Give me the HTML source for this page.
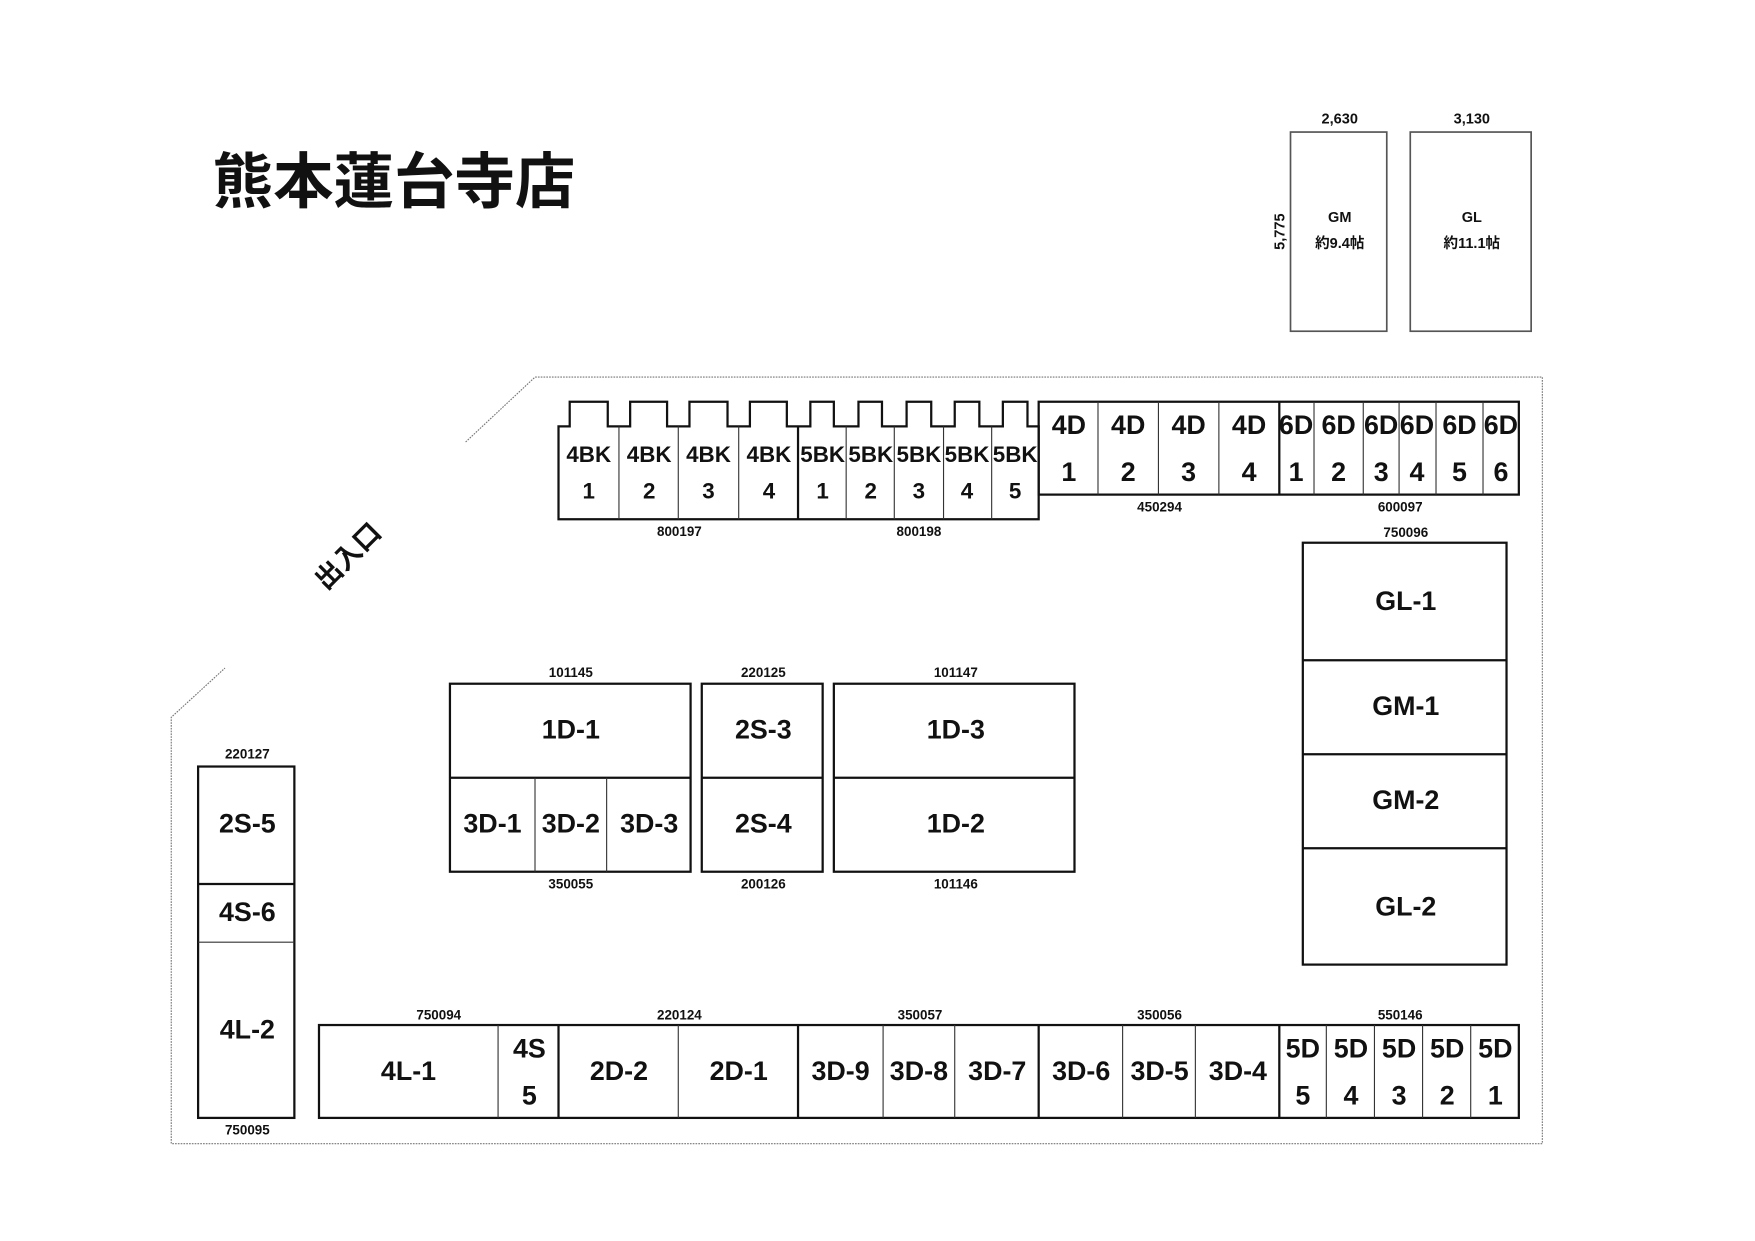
<!DOCTYPE html>
<html><head><meta charset="utf-8"><style>
html,body{margin:0;padding:0;background:#fff;}
svg{display:block;}
text{font-family:"Liberation Sans","Noto Sans CJK JP",sans-serif;font-weight:bold;fill:#111;text-anchor:middle;dominant-baseline:central;}
.s{font-size:12px;}
.m{font-size:24px;}
.b{font-size:20px;}
.thin{stroke:#333;stroke-width:1;fill:none;}
.thick{stroke:#111;stroke-width:2;fill:none;}
.dot{stroke:#777;stroke-width:1;fill:none;stroke-dasharray:1.5 1;}
</style></head><body>
<svg width="1755" height="1241" viewBox="0 0 1568 1109" preserveAspectRatio="none" xmlns="http://www.w3.org/2000/svg">
<rect width="1568" height="1109" fill="#fff"/>
<text x="352" y="158" style="font-size:54px;font-family:'Noto Sans CJK JP',sans-serif;">熊本蓮台寺店</text>

<!-- GM / GL -->
<rect x="1153" y="118" width="86" height="178" class="thin" style="stroke:#555;stroke-width:1.5"/>
<rect x="1260" y="118" width="108" height="178" class="thin" style="stroke:#555;stroke-width:1.5"/>
<text x="1197" y="107" class="s" style="font-size:13px">2,630</text>
<text x="1315" y="107" class="s" style="font-size:13px">3,130</text>
<text x="1197" y="195" class="s" style="font-size:13px">GM</text>
<text x="1197" y="218" class="s" style="font-size:13px">約9.4帖</text>
<text x="1315" y="195" class="s" style="font-size:13px">GL</text>
<text x="1315" y="218" class="s" style="font-size:13px">約11.1帖</text>
<text x="1144" y="207" class="s" style="font-size:13px" transform="rotate(-90 1144 207)">5,775</text>

<!-- boundary -->
<path class="dot" d="M416,395 L478,337 L1378,337 L1378,1022 L153,1022 L153,641 L201,597"/>

<text x="311" y="497" style="font-size:24px" transform="rotate(-45 311 497)">出入口</text>

<!-- BK row -->
<path class="thick" d="M499,464 L499,381 L509,381 L509,359 L543,359 L543,381 L563,381 L563,359 L596,359 L596,381 L616,381 L616,359 L650,359 L650,381 L670,381 L670,359 L703,359 L703,381 L724,381 L724,359 L745,359 L745,381 L767,381 L767,359 L788,359 L788,381 L810,381 L810,359 L832,359 L832,381 L853,381 L853,359 L875,359 L875,381 L896,381 L896,359 L918,359 L918,381 L928,381 L928,464 Z"/>
<path class="thin" d="M553,381V464M606,381V464M660,381V464M756,381V464M799,381V464M843,381V464M886,381V464"/>
<path class="thick" d="M713,381V464"/>
<g class="b">
<text x="526" y="406">4BK</text><text x="526" y="439">1</text>
<text x="580" y="406">4BK</text><text x="580" y="439">2</text>
<text x="633" y="406">4BK</text><text x="633" y="439">3</text>
<text x="687" y="406">4BK</text><text x="687" y="439">4</text>
<text x="735" y="406">5BK</text><text x="735" y="439">1</text>
<text x="778" y="406">5BK</text><text x="778" y="439">2</text>
<text x="821" y="406">5BK</text><text x="821" y="439">3</text>
<text x="864" y="406">5BK</text><text x="864" y="439">4</text>
<text x="907" y="406">5BK</text><text x="907" y="439">5</text>
</g>
<text x="607" y="475" class="s">800197</text>
<text x="821" y="475" class="s">800198</text>

<!-- 4D/6D row -->
<rect x="928" y="359" width="429" height="83" class="thick"/>
<path class="thin" d="M981,359V442M1035,359V442M1089,359V442M1174,359V442M1218,359V442M1250,359V442M1283,359V442M1325,359V442"/>
<path class="thick" d="M1143,359V442"/>
<g class="m">
<text x="955" y="380">4D</text><text x="955" y="422">1</text>
<text x="1008" y="380">4D</text><text x="1008" y="422">2</text>
<text x="1062" y="380">4D</text><text x="1062" y="422">3</text>
<text x="1116" y="380">4D</text><text x="1116" y="422">4</text>
<text x="1158" y="380">6D</text><text x="1158" y="422">1</text>
<text x="1196" y="380">6D</text><text x="1196" y="422">2</text>
<text x="1234" y="380">6D</text><text x="1234" y="422">3</text>
<text x="1266" y="380">6D</text><text x="1266" y="422">4</text>
<text x="1304" y="380">6D</text><text x="1304" y="422">5</text>
<text x="1341" y="380">6D</text><text x="1341" y="422">6</text>
</g>
<text x="1036" y="453" class="s">450294</text>
<text x="1251" y="453" class="s">600097</text>

<!-- GL column -->
<text x="1256" y="476" class="s">750096</text>
<rect x="1164" y="485" width="182" height="377" class="thick"/>
<path class="thick" d="M1164,590H1346M1164,674H1346M1164,758H1346"/>
<g class="m">
<text x="1256" y="537">GL-1</text>
<text x="1256" y="631">GM-1</text>
<text x="1256" y="715">GM-2</text>
<text x="1256" y="810">GL-2</text>
</g>

<!-- middle blocks -->
<rect x="402" y="611" width="215" height="168" class="thick"/>
<path class="thick" d="M402,695H617"/>
<path class="thin" d="M478,695V779M542,695V779"/>
<rect x="627" y="611" width="108" height="168" class="thick"/>
<path class="thick" d="M627,695H735"/>
<rect x="745" y="611" width="215" height="168" class="thick"/>
<path class="thick" d="M745,695H960"/>
<text x="510" y="601" class="s">101145</text>
<text x="510" y="790" class="s">350055</text>
<text x="682" y="601" class="s">220125</text>
<text x="682" y="790" class="s">200126</text>
<text x="854" y="601" class="s">101147</text>
<text x="854" y="790" class="s">101146</text>
<g class="m">
<text x="510" y="652">1D-1</text>
<text x="440" y="736">3D-1</text><text x="510" y="736">3D-2</text><text x="580" y="736">3D-3</text>
<text x="682" y="652">2S-3</text><text x="682" y="736">2S-4</text>
<text x="854" y="652">1D-3</text><text x="854" y="736">1D-2</text>
</g>

<!-- left column -->
<text x="221" y="674" class="s">220127</text>
<rect x="177" y="685" width="86" height="314" class="thick"/>
<path class="thick" d="M177,790H263"/>
<path class="thin" d="M177,842H263"/>
<text x="221" y="1010" class="s">750095</text>
<g class="m">
<text x="221" y="736">2S-5</text>
<text x="221" y="815">4S-6</text>
<text x="221" y="920">4L-2</text>
</g>

<!-- bottom row -->
<rect x="285" y="916" width="1072" height="83" class="thick"/>
<path class="thin" d="M445,916V999M606,916V999M789,916V999M853,916V999M1003,916V999M1068,916V999M1185,916V999M1228,916V999M1271,916V999M1314,916V999"/>
<path class="thick" d="M499,916V999M713,916V999M928,916V999M1143,916V999"/>
<text x="392" y="907" class="s">750094</text>
<text x="607" y="907" class="s">220124</text>
<text x="822" y="907" class="s">350057</text>
<text x="1036" y="907" class="s">350056</text>
<text x="1251" y="907" class="s">550146</text>
<g class="m">
<text x="365" y="957">4L-1</text>
<text x="473" y="937">4S</text><text x="473" y="979">5</text>
<text x="553" y="957">2D-2</text>
<text x="660" y="957">2D-1</text>
<text x="751" y="957">3D-9</text>
<text x="821" y="957">3D-8</text>
<text x="891" y="957">3D-7</text>
<text x="966" y="957">3D-6</text>
<text x="1036" y="957">3D-5</text>
<text x="1106" y="957">3D-4</text>
<text x="1164" y="937">5D</text><text x="1164" y="979">5</text>
<text x="1207" y="937">5D</text><text x="1207" y="979">4</text>
<text x="1250" y="937">5D</text><text x="1250" y="979">3</text>
<text x="1293" y="937">5D</text><text x="1293" y="979">2</text>
<text x="1336" y="937">5D</text><text x="1336" y="979">1</text>
</g>
</svg>
</body></html>
